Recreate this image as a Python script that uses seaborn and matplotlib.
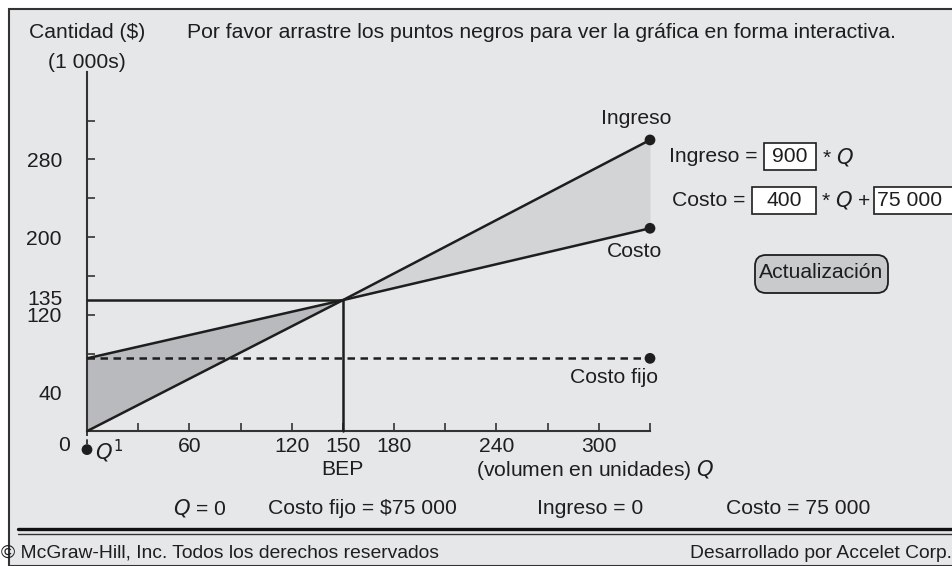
import matplotlib
matplotlib.use("Agg")
import matplotlib.pyplot as plt
from matplotlib.patches import Rectangle, FancyBboxPatch
from matplotlib.transforms import IdentityTransform
import seaborn as sns

# data (units, thousands of $)
q = [0, 150, 330]
ingreso = [0, 135, 300]
costo = [75, 135, 209]
costo_fijo = [75, 75, 75]
bep_q = 150
bep_y = 135
q1_y = -19

x_ticks = [30, 60, 90, 120, 150, 180, 210, 240, 270, 300, 330]
x_labels = ["", "60", "", "120", "150", "180", "", "240", "", "300", ""]
y_ticks = [40, 80, 120, 160, 200, 240, 280, 320]
y_labels = ["40", "", "120", "", "200", "", "280", ""]

W, H = 953, 566
BG = "#e6e7e9"
LOSS = "#b9babd"
PROFIT = "#d3d4d6"
INK = "#1e1e1e"

sns.set_theme(style="white")
plt.rcParams['font.family'] = ['Liberation Sans', 'DejaVu Sans']
FS = 15.2

fig = plt.figure(figsize=(W / 100, H / 100), dpi=100)
fig.patch.set_facecolor("white")


def fx(x):
    return x / W


def fy(y):
    return 1 - y / H


def pbox(x0, y0, x1, y1, **kw):
    # box given in pixels from the top-left corner
    return FancyBboxPatch((x0, H - y1), x1 - x0, y1 - y0, transform=IdentityTransform(), **kw)


# panel
fig.add_artist(Rectangle((fx(9), 0), 1, fy(9), transform=fig.transFigure,
                         facecolor=BG, edgecolor="#333333", linewidth=1.5, zorder=0))

# axes: data x 0..330 -> px 87..650 ; y -40..370 -> px 470..72
ax = fig.add_axes([fx(87), fy(470), (650 - 87) / W, (470 - 72) / H])
ax.set_facecolor("none")
ax.set_xlim(0, 330)
ax.set_ylim(-40, 370)

ax.fill_between(q[:2], ingreso[:2], costo[:2], color=LOSS, linewidth=0, zorder=1)
ax.fill_between(q[1:], ingreso[1:], costo[1:], color=PROFIT, linewidth=0, zorder=1)

sns.lineplot(x=q, y=ingreso, color=INK, linewidth=1.8, ax=ax, zorder=3)
sns.lineplot(x=q, y=costo, color=INK, linewidth=1.8, ax=ax, zorder=3)
ax.plot(q, costo_fijo, color=INK, linewidth=1.8, linestyle=(0, (3, 2.2)), zorder=3)
ax.plot([0, bep_q], [bep_y, bep_y], color=INK, linewidth=1.8, zorder=3)
ax.plot([bep_q, bep_q], [0, bep_y], color=INK, linewidth=1.8, zorder=3)
ax.plot([0, 0], [0, q1_y], color=INK, linewidth=1.2, linestyle=(0, (3, 2)), zorder=3, clip_on=False)

sns.scatterplot(x=[q[-1], q[-1], q[-1], 0], y=[ingreso[-1], costo[-1], costo_fijo[-1], q1_y],
                color=INK, s=60, edgecolor="none", ax=ax, zorder=4, clip_on=False)

for s in ["top", "right"]:
    ax.spines[s].set_visible(False)
ax.spines["left"].set_position(("data", 0))
ax.spines["bottom"].set_position(("data", 0))
ax.spines["left"].set_bounds(0, 370)
ax.spines["bottom"].set_bounds(0, 330)
for s in ["left", "bottom"]:
    ax.spines[s].set_color("#333333")
    ax.spines[s].set_linewidth(1.5)

ax.set_xticks(x_ticks, x_labels)
ax.set_yticks(y_ticks, y_labels)
ax.tick_params(axis="x", bottom=True, direction="in", length=6, width=1.2, pad=4,
               labelsize=FS, colors="#333333", labelcolor=INK)
ax.tick_params(axis="y", left=True, direction="in", length=6, width=1.2, pad=18,
               labelsize=FS, colors="#333333", labelcolor=INK)
ax.text(-14.5, bep_y + 1, "135", ha="right", va="center", fontsize=FS, color=INK)
ax.text(-10, -15, "0", ha="right", va="center", fontsize=FS, color=INK)

# chart labels
ax.text(bep_q, -39.5, "BEP", ha="center", va="center", fontsize=FS, color=INK)
ax.text(228, -39.5, "(volumen en unidades) $\\it{Q}$", ha="left", va="center", fontsize=FS, color=INK)
ax.text(4.5, q1_y - 2, "$\\it{Q}^1$", ha="left", va="center", fontsize=FS, color=INK)
ax.text(322, 322, "Ingreso", ha="center", va="center", fontsize=FS, color=INK)
ax.text(321, 185, "Costo", ha="center", va="center", fontsize=FS, color=INK)
ax.text(309, 55, "Costo fijo", ha="center", va="center", fontsize=FS, color=INK)

# header
fig.text(fx(87), fy(33), "Cantidad ($)", ha="center", va="center", fontsize=FS, color=INK)
fig.text(fx(87), fy(62), "(1 000s)", ha="center", va="center", fontsize=FS, color=INK)
fig.text(fx(187), fy(33), "Por favor arrastre los puntos negros para ver la gráfica en forma interactiva.",
         ha="left", va="center", fontsize=FS, color=INK)

# equation widgets
box_kw = dict(boxstyle="square,pad=0", facecolor="white", edgecolor=INK, linewidth=1.2)
fig.text(fx(758), fy(157), "Ingreso =", ha="right", va="center", fontsize=FS, color=INK)
fig.add_artist(pbox(764, 143, 816, 170, **box_kw))
fig.text(fx(790), fy(157), "900", ha="center", va="center", fontsize=FS, color=INK)
fig.text(fx(822), fy(157), "* $\\it{Q}$", ha="left", va="center", fontsize=FS, color=INK)

fig.text(fx(745), fy(200), "Costo =", ha="right", va="center", fontsize=FS, color=INK)
fig.add_artist(pbox(752, 187, 816, 214, **box_kw))
fig.text(fx(784), fy(200), "400", ha="center", va="center", fontsize=FS, color=INK)
fig.text(fx(821), fy(200), "* $\\it{Q}$ +", ha="left", va="center", fontsize=FS, color=INK)
fig.add_artist(pbox(874, 187, 970, 214, **box_kw))
fig.text(fx(877), fy(200), "75 000", ha="left", va="center", fontsize=FS, color=INK)

fig.add_artist(pbox(755, 255, 888, 293, boxstyle="round,pad=0,rounding_size=11",
                    facecolor="#c9cacc", edgecolor=INK, linewidth=1.3))
fig.text(fx(821), fy(273), "Actualización", ha="center", va="center", fontsize=FS, color=INK)

# status row
fig.text(fx(200), fy(508), "$\\it{Q}$ = 0", ha="center", va="center", fontsize=FS, color=INK)
fig.text(fx(268), fy(508), "Costo fijo = $75 000", ha="left", va="center", fontsize=FS, color=INK)
fig.text(fx(537), fy(508), "Ingreso = 0", ha="left", va="center", fontsize=FS, color=INK)
fig.text(fx(726), fy(508), "Costo = 75 000", ha="left", va="center", fontsize=FS, color=INK)

fig.add_artist(plt.Line2D([fx(18), 1], [fy(529), fy(529)], color="#111111", linewidth=2.4))
fig.add_artist(plt.Line2D([fx(18), 1], [fy(534), fy(534)], color="#333333", linewidth=1.0))

fig.text(fx(1), fy(553), "© McGraw-Hill, Inc. Todos los derechos reservados",
         ha="left", va="center", fontsize=13.9, color=INK)
fig.text(fx(952), fy(553), "Desarrollado por Accelet Corp.",
         ha="right", va="center", fontsize=13.9, color=INK)

fig.savefig("out.png", dpi=100, facecolor=fig.get_facecolor())
